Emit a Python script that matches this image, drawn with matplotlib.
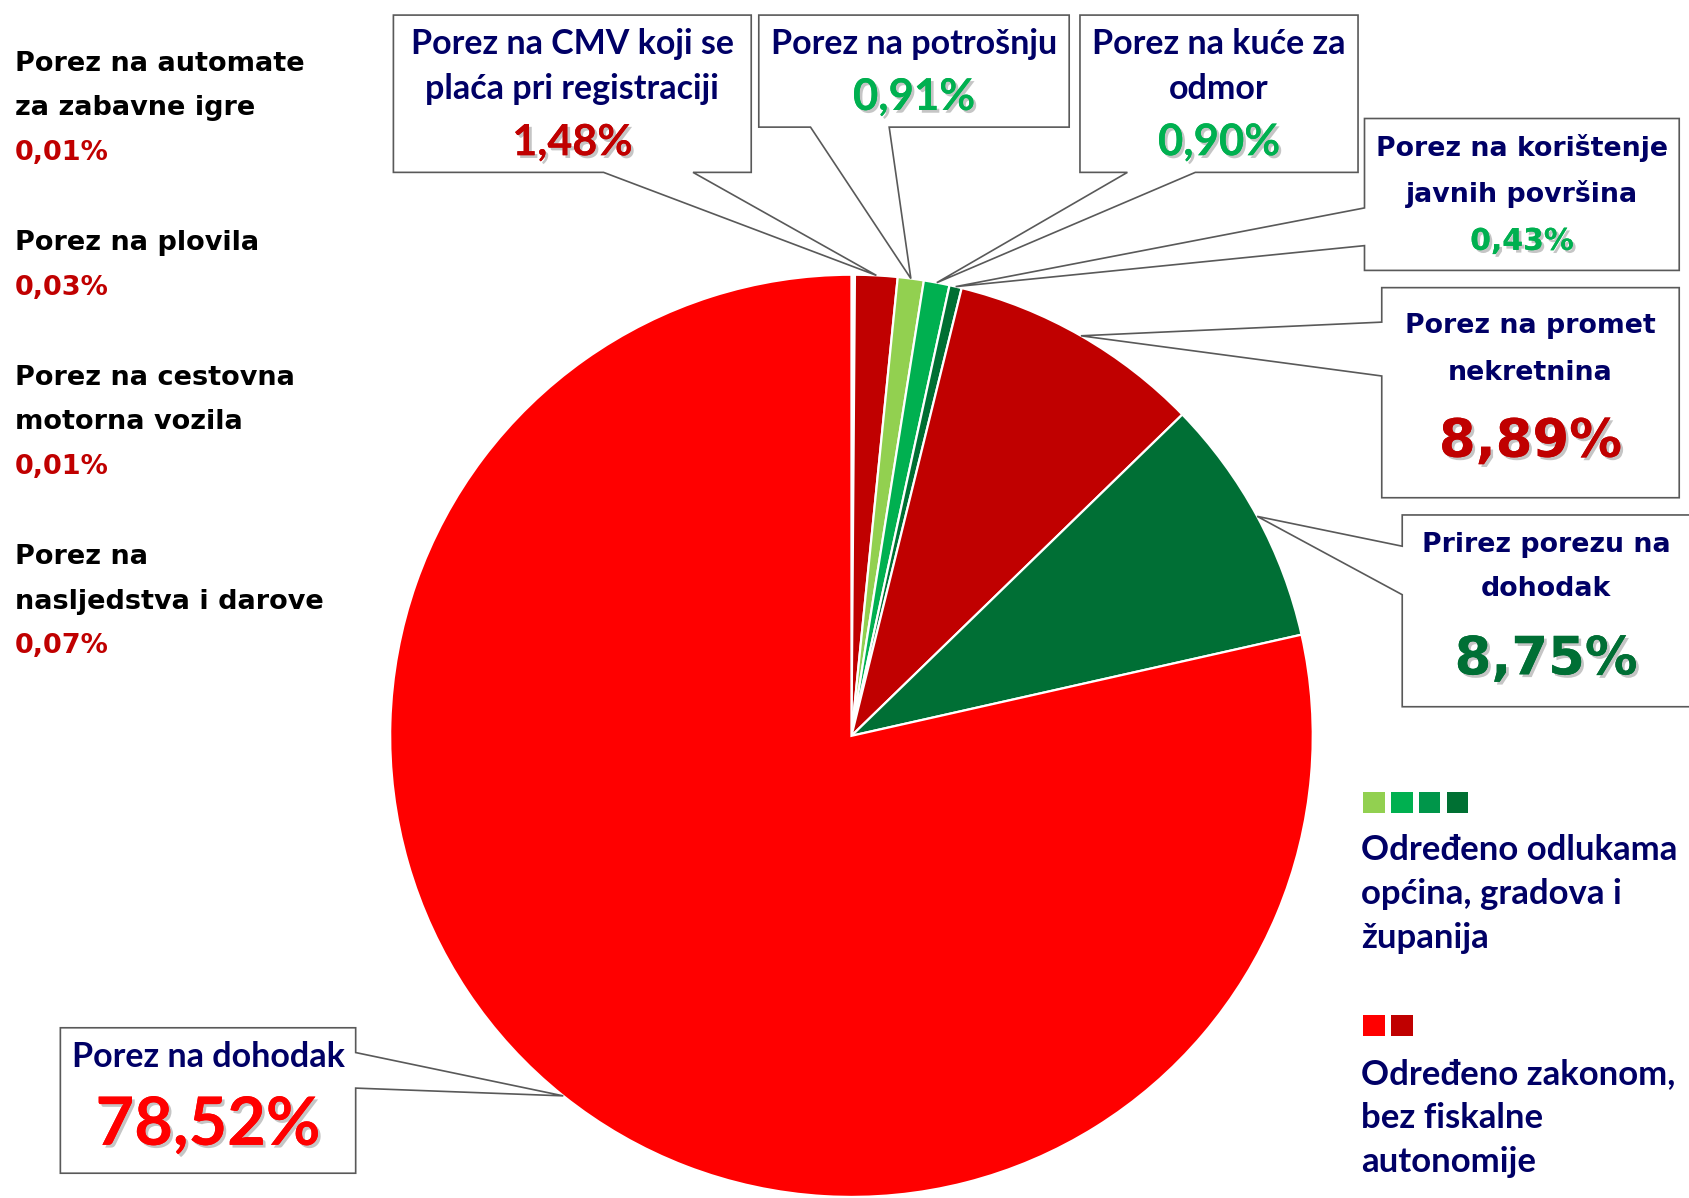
import numpy as np
import matplotlib
matplotlib.use('Agg')
import matplotlib.pyplot as plt
from matplotlib.patches import Polygon, Rectangle
import matplotlib.patheffects as pe

# Shares of local tax revenue (%), clockwise from the top
names = ['Porez na automate za zabavne igre', 'Porez na plovila',
         'Porez na cestovna motorna vozila', 'Porez na nasljedstva i darove',
         'Porez na CMV koji se plaća pri registraciji', 'Porez na potrošnju',
         'Porez na kuće za odmor', 'Porez na korištenje javnih površina',
         'Porez na promet nekretnina', 'Prirez porezu na dohodak', 'Porez na dohodak']
shares = [0.01, 0.03, 0.01, 0.07, 1.48, 0.91, 0.90, 0.43, 8.89, 8.75, 78.52]
slice_colors = ['#C00000', '#C00000', '#C00000', '#C00000', '#C00000', '#92D050',
                '#00B050', '#006F33', '#C00000', '#006F35', '#FF0000']

# small taxes listed on the left (index into shares, text lines)
left_items = [(0, ['Porez na automate', 'za zabavne igre']),
              (1, ['Porez na plovila']),
              (2, ['Porez na cestovna', 'motorna vozila']),
              (3, ['Porez na', 'nasljedstva i darove'])]

legend_green = ['#92D050', '#00B050', '#00964A', '#007033']
legend_red = ['#FF0000', '#C00000']
legend_green_text = ['Određeno odlukama', 'općina, gradova i', 'županija']
legend_red_text = ['Određeno zakonom,', 'bez fiskalne', 'autonomije']

NAVY = '#000066'
CAL = ['Lato', 'DejaVu Sans']
VER = ['DejaVu Sans']
W, H = 1568, 1112


def Y(y):
    return H - y


fig = plt.figure(figsize=(16.9, 11.98), dpi=100)
ax = fig.add_axes([0, 0, 1, 1])

cx, cy, r = 790, Y(683), 428
wedges, _ = ax.pie(shares, colors=slice_colors, startangle=90, counterclock=False,
                   center=(cx, cy), radius=r,
                   wedgeprops=dict(edgecolor='white', linewidth=1.6))
ax.set_xlim(0, W)
ax.set_ylim(0, H)
ax.set_aspect('auto')
ax.axis('off')


def tip_of(i):
    w = wedges[i]
    mid = np.deg2rad((w.theta1 + w.theta2) / 2)
    return (cx + r * np.cos(mid), cy + r * np.sin(mid))


def callout(i, x0, y0, x1, y1, side, g0, g1):
    tip = tip_of(i)
    pts = [(x0, Y(y0)), (x1, Y(y0))]
    if side == 'right':
        pts += [(x1, Y(g0)), tip, (x1, Y(g1))]
    pts.append((x1, Y(y1)))
    if side == 'bottom':
        pts += [(g1, Y(y1)), tip, (g0, Y(y1))]
    pts.append((x0, Y(y1)))
    if side == 'left':
        pts += [(x0, Y(g1)), tip, (x0, Y(g0))]
    ax.add_patch(Polygon(pts, closed=True, facecolor='white', edgecolor='#595959',
                         linewidth=1.2, zorder=3))


def pct(v):
    return f'{v:.2f}%'.replace('.', ',')


shadow = [pe.withSimplePatchShadow(offset=(2, -2), shadow_rgbFace='#808080', alpha=0.45),
          pe.Normal()]

# (slice index, box, side, gap, title lines, line ys, pct y, pct colour, font, title size, pct size)
boxes = [
    (4, (365, 14, 697, 160), 'bottom', (560, 643), ['Porez na CMV koji se', 'plaća pri registraciji'],
     [41, 83], 132, '#C00000', CAL, 24.5, 31),
    (5, (704, 14, 992, 118), 'bottom', (752, 825), ['Porez na potrošnju'],
     [41], 90, '#00B050', CAL, 24.5, 31.5),
    (6, (1002, 14, 1260, 160), 'bottom', (1046, 1109), ['Porez na kuće za', 'odmor'],
     [41, 83], 132, '#00B050', CAL, 24.5, 31.5),
    (7, (1266, 110, 1558, 251), 'left', (193, 228), ['Porez na korištenje', 'javnih površina'],
     [137, 180], 224, '#00B050', VER, 19.3, 21.5),
    (8, (1282, 267, 1558, 462), 'left', (299, 349), ['Porez na promet', 'nekretnina'],
     [303, 346], 410, '#C00000', VER, 19.3, 38),
    (9, (1301, 478, 1580, 656), 'left', (507, 552), ['Prirez porezu na', 'dohodak'],
     [506, 547], 612, '#006F35', VER, 19.3, 38),
    (10, (56, 954, 330, 1089), 'right', (977, 1010), ['Porez na dohodak'],
     [981], 1045, '#FF0000', CAL, 24.5, 48),
]

for i, (x0, y0, x1, y1), side, (g0, g1), lines, ys, py, pcol, fam, ts, ps in boxes:
    callout(i, x0, y0, x1, y1, side, g0, g1)
    xc = (x0 + min(x1, W)) / 2
    for s, yy in zip(lines, ys):
        ax.text(xc, Y(yy), s, ha='center', va='center', color=NAVY,
                fontsize=ts, fontweight='bold', family=fam, zorder=4)
    ax.text(xc, Y(py), pct(shares[i]), ha='center', va='center', color=pcol,
            fontsize=ps, fontweight='bold', family=fam, zorder=4, path_effects=shadow)

# left-hand list of the tiniest taxes
y = 59
for i, lines in left_items:
    for s in lines:
        ax.text(14, Y(y), s, ha='left', va='center', color='black',
                fontsize=19.5, fontweight='bold', family=VER)
        y += 41.5
    ax.text(14, Y(y), pct(shares[i]), ha='left', va='center', color='#C00000',
            fontsize=19.5, fontweight='bold', family=VER)
    y += 83.5

# colour key on the right
for k, c in enumerate(legend_green):
    ax.add_patch(Rectangle((1265 + k * 25.7, Y(755)), 20, 20, facecolor=c, edgecolor='none'))
for k, s in enumerate(legend_green_text):
    ax.text(1263, Y(789 + k * 41), s, ha='left', va='center', color=NAVY,
            fontsize=25, fontweight='bold', family=CAL)
for k, c in enumerate(legend_red):
    ax.add_patch(Rectangle((1265 + k * 25.7, Y(962)), 20, 20, facecolor=c, edgecolor='none'))
for k, s in enumerate(legend_red_text):
    ax.text(1263, Y(997 + k * 41), s, ha='left', va='center', color=NAVY,
            fontsize=25, fontweight='bold', family=CAL)

fig.savefig('out.png', dpi=100, facecolor='white')
